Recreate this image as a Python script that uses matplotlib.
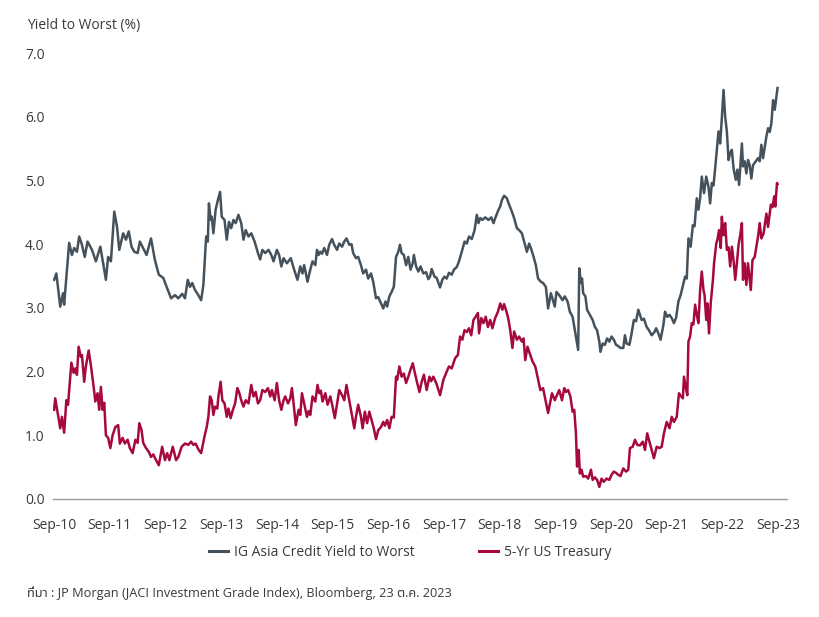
import matplotlib
matplotlib.use("Agg")
import matplotlib.pyplot as plt
from matplotlib import font_manager, ft2font

# ---------------- data (decimal years, values in %) ----------------
ig_t = [2010.81, 2010.85, 2010.92, 2010.97, 2010.99, 2011.08, 2011.13, 2011.17, 2011.22, 2011.26,
        2011.31, 2011.36, 2011.41, 2011.49, 2011.56, 2011.64, 2011.68, 2011.74, 2011.78, 2011.83,
        2011.89, 2011.94, 2011.98, 2012.05, 2012.10, 2012.15, 2012.20, 2012.25, 2012.31, 2012.35,
        2012.47, 2012.55, 2012.62, 2012.69, 2012.77, 2012.83, 2012.91, 2012.98, 2013.04, 2013.11,
        2013.16, 2013.21, 2013.25, 2013.29, 2013.34, 2013.40, 2013.45, 2013.49, 2013.52, 2013.54,
        2013.57, 2013.59, 2013.62, 2013.64, 2013.67, 2013.71, 2013.75, 2013.79, 2013.82, 2013.87,
        2013.91, 2013.95, 2013.99, 2014.03, 2014.07, 2014.12, 2014.17, 2014.21, 2014.25, 2014.30,
        2014.35, 2014.41, 2014.47, 2014.51, 2014.55, 2014.60, 2014.66, 2014.71, 2014.75, 2014.81,
        2014.85, 2014.89, 2014.93, 2014.99, 2015.06, 2015.12, 2015.18, 2015.23, 2015.27, 2015.30,
        2015.36, 2015.41, 2015.45, 2015.50, 2015.53, 2015.56, 2015.59, 2015.62, 2015.66, 2015.71,
        2015.75, 2015.80, 2015.84, 2015.89, 2015.93, 2015.98, 2016.02, 2016.06, 2016.11, 2016.15,
        2016.18, 2016.23, 2016.27, 2016.32, 2016.36, 2016.41, 2016.45, 2016.50, 2016.54, 2016.59,
        2016.63, 2016.68, 2016.72, 2016.76, 2016.79, 2016.83, 2016.87, 2016.91, 2016.95, 2016.99,
        2017.02, 2017.05, 2017.09, 2017.13, 2017.17, 2017.21, 2017.25, 2017.27, 2017.31, 2017.35,
        2017.39, 2017.44, 2017.49, 2017.53, 2017.56, 2017.59, 2017.64, 2017.68, 2017.74, 2017.78,
        2017.82, 2017.86, 2017.90, 2017.95, 2017.99, 2018.04, 2018.08, 2018.13, 2018.18, 2018.22,
        2018.26, 2018.31, 2018.36, 2018.40, 2018.43, 2018.46, 2018.50, 2018.55, 2018.61, 2018.66,
        2018.70, 2018.74, 2018.79, 2018.82, 2018.85, 2018.89, 2018.94, 2018.98, 2019.03, 2019.07,
        2019.12, 2019.16, 2019.21, 2019.25, 2019.30, 2019.34, 2019.37, 2019.41, 2019.46, 2019.50,
        2019.55, 2019.59, 2019.64, 2019.68, 2019.73, 2019.80, 2019.83, 2019.88, 2019.94, 2019.98,
        2020.03, 2020.07, 2020.12, 2020.16, 2020.19, 2020.22, 2020.24, 2020.27, 2020.29, 2020.31,
        2020.35, 2020.38, 2020.43, 2020.48, 2020.52, 2020.56, 2020.60, 2020.62, 2020.66, 2020.70,
        2020.74, 2020.78, 2020.82, 2020.86, 2020.90, 2020.94, 2020.98, 2021.03, 2021.06, 2021.09,
        2021.14, 2021.18, 2021.22, 2021.26, 2021.30, 2021.33, 2021.36, 2021.40, 2021.45, 2021.49,
        2021.54, 2021.59, 2021.62, 2021.66, 2021.70, 2021.75, 2021.78, 2021.82, 2021.86, 2021.90,
        2021.94, 2021.98, 2022.02, 2022.06, 2022.14, 2022.17, 2022.20, 2022.24, 2022.28, 2022.31,
        2022.35, 2022.38, 2022.41, 2022.44, 2022.48, 2022.52, 2022.56, 2022.59, 2022.62, 2022.65,
        2022.68, 2022.71, 2022.74, 2022.77, 2022.80, 2022.83, 2022.86, 2022.89, 2022.92, 2022.95,
        2022.98, 2023.01, 2023.05, 2023.08, 2023.11, 2023.16, 2023.18, 2023.21, 2023.24, 2023.27,
        2023.30, 2023.33, 2023.36, 2023.41, 2023.45, 2023.48, 2023.51, 2023.54, 2023.60, 2023.63,
        2023.66, 2023.69, 2023.72, 2023.75, 2023.77, 2023.80]
ig_v = [3.44, 3.54, 3.02, 3.23, 3.05, 4.02, 3.83, 3.94, 3.88, 4.12,
        3.99, 3.80, 4.04, 3.91, 3.73, 3.96, 3.75, 3.44, 3.80, 3.73,
        4.51, 4.27, 3.91, 4.17, 4.07, 4.20, 3.96, 3.88, 3.86, 4.04,
        3.83, 4.09, 3.75, 3.52, 3.47, 3.33, 3.15, 3.20, 3.15, 3.22,
        3.15, 3.44, 3.33, 3.39, 3.28, 3.20, 3.12, 3.36, 3.80, 4.12,
        4.04, 4.64, 4.38, 4.43, 4.17, 4.54, 4.69, 4.82, 4.43, 4.38,
        4.07, 4.35, 4.25, 4.38, 4.33, 4.46, 4.33, 4.07, 4.22, 4.12,
        4.17, 4.04, 3.86, 3.76, 3.91, 3.86, 3.91, 3.83, 3.73, 3.91,
        3.83, 3.65, 3.78, 3.70, 3.78, 3.60, 3.44, 3.65, 3.54, 3.67,
        3.41, 3.60, 3.73, 3.67, 3.91, 3.83, 3.88, 3.85, 3.94, 3.83,
        3.99, 4.08, 3.99, 3.91, 4.01, 3.96, 4.04, 4.09, 3.99, 4.00,
        3.86, 3.78, 3.80, 3.67, 3.54, 3.60, 3.46, 3.54, 3.41, 3.15,
        3.17, 3.07, 2.99, 3.10, 3.02, 3.18, 3.25, 3.33, 3.80, 3.88,
        3.99, 3.86, 3.83, 3.67, 3.80, 3.60, 3.70, 3.83, 3.65, 3.57,
        3.65, 3.54, 3.56, 3.45, 3.49, 3.61, 3.49, 3.47, 3.32, 3.44,
        3.49, 3.46, 3.55, 3.52, 3.60, 3.64, 3.73, 3.88, 4.04, 4.01,
        4.12, 4.08, 4.22, 4.46, 4.33, 4.41, 4.38, 4.42, 4.38, 4.42,
        4.33, 4.43, 4.54, 4.59, 4.69, 4.76, 4.72, 4.62, 4.51, 4.41,
        4.25, 4.22, 4.17, 4.04, 3.88, 4.01, 3.94, 3.83, 3.67, 3.46,
        3.41, 3.39, 3.33, 2.99, 3.23, 3.02, 3.25, 3.20, 3.12, 3.18,
        3.10, 2.94, 2.86, 2.65, 2.50, 2.34, 3.62, 3.39, 3.46, 3.23,
        3.18, 2.97, 2.89, 2.81, 2.70, 2.65, 2.47, 2.31, 2.44, 2.42,
        2.52, 2.47, 2.55, 2.50, 2.42, 2.40, 2.37, 2.37, 2.57, 2.44,
        2.42, 2.60, 2.81, 2.79, 2.97, 2.89, 2.81, 2.83, 2.70, 2.65,
        2.57, 2.62, 2.68, 2.60, 2.50, 2.73, 2.94, 2.86, 2.89, 2.84,
        2.76, 2.85, 3.10, 3.20, 3.49, 3.46, 4.09, 3.96, 4.30, 4.28,
        4.72, 4.54, 4.72, 5.06, 4.80, 5.06, 4.90, 4.64, 4.96, 4.92,
        5.19, 5.48, 5.77, 5.58, 5.98, 6.42, 6.00, 5.77, 5.32, 5.43,
        5.48, 5.19, 5.01, 5.17, 4.93, 5.58, 5.22, 5.30, 5.11, 5.32,
        5.24, 5.03, 5.24, 5.30, 5.35, 5.30, 5.56, 5.35, 5.69, 5.82,
        5.76, 5.90, 6.26, 6.11, 6.25, 6.45]

ust_t = [2010.81, 2010.83, 2010.92, 2010.95, 2010.99, 2011.03, 2011.06, 2011.12, 2011.16, 2011.19,
         2011.22, 2011.25, 2011.29, 2011.31, 2011.35, 2011.38, 2011.43, 2011.47, 2011.52, 2011.55,
         2011.59, 2011.62, 2011.65, 2011.68, 2011.71, 2011.74, 2011.78, 2011.82, 2011.86, 2011.91,
         2011.96, 2011.99, 2012.04, 2012.08, 2012.13, 2012.17, 2012.22, 2012.27, 2012.31, 2012.34,
         2012.38, 2012.41, 2012.46, 2012.51, 2012.55, 2012.59, 2012.64, 2012.69, 2012.75, 2012.80,
         2012.84, 2012.88, 2012.94, 2013.00, 2013.04, 2013.10, 2013.16, 2013.22, 2013.27, 2013.31,
         2013.35, 2013.40, 2013.45, 2013.51, 2013.55, 2013.58, 2013.61, 2013.64, 2013.67, 2013.70,
         2013.74, 2013.76, 2013.80, 2013.83, 2013.87, 2013.91, 2013.94, 2013.98, 2014.02, 2014.06,
         2014.10, 2014.13, 2014.17, 2014.21, 2014.25, 2014.30, 2014.35, 2014.39, 2014.43, 2014.47,
         2014.51, 2014.55, 2014.60, 2014.65, 2014.69, 2014.72, 2014.77, 2014.81, 2014.85, 2014.89,
         2014.93, 2014.96, 2015.01, 2015.05, 2015.08, 2015.11, 2015.15, 2015.20, 2015.23, 2015.26,
         2015.30, 2015.35, 2015.38, 2015.41, 2015.45, 2015.50, 2015.54, 2015.57, 2015.60, 2015.63,
         2015.68, 2015.72, 2015.77, 2015.81, 2015.85, 2015.90, 2015.93, 2015.98, 2016.02, 2016.06,
         2016.11, 2016.15, 2016.20, 2016.23, 2016.27, 2016.32, 2016.35, 2016.39, 2016.43, 2016.47,
         2016.51, 2016.55, 2016.59, 2016.63, 2016.68, 2016.72, 2016.75, 2016.79, 2016.83, 2016.87,
         2016.91, 2016.95, 2016.97, 2017.01, 2017.05, 2017.09, 2017.13, 2017.17, 2017.21, 2017.25,
         2017.29, 2017.33, 2017.37, 2017.41, 2017.45, 2017.50, 2017.55, 2017.58, 2017.62, 2017.68,
         2017.74, 2017.80, 2017.86, 2017.90, 2017.95, 2018.01, 2018.06, 2018.10, 2018.14, 2018.18,
         2018.22, 2018.26, 2018.30, 2018.34, 2018.38, 2018.42, 2018.44, 2018.48, 2018.52, 2018.56,
         2018.60, 2018.64, 2018.68, 2018.73, 2018.78, 2018.82, 2018.86, 2018.89, 2018.94, 2018.97,
         2019.00, 2019.04, 2019.07, 2019.12, 2019.16, 2019.21, 2019.24, 2019.27, 2019.31, 2019.36,
         2019.40, 2019.45, 2019.49, 2019.54, 2019.59, 2019.68, 2019.75, 2019.80, 2019.88, 2019.93,
         2019.97, 2020.00, 2020.04, 2020.08, 2020.12, 2020.15, 2020.18, 2020.20, 2020.23, 2020.25,
         2020.28, 2020.31, 2020.36, 2020.40, 2020.45, 2020.48, 2020.52, 2020.56, 2020.60, 2020.64,
         2020.68, 2020.73, 2020.78, 2020.82, 2020.86, 2020.90, 2020.94, 2020.98, 2021.03, 2021.08,
         2021.12, 2021.15, 2021.20, 2021.24, 2021.28, 2021.33, 2021.38, 2021.42, 2021.46, 2021.50,
         2021.54, 2021.58, 2021.63, 2021.68, 2021.72, 2021.76, 2021.81, 2021.86, 2021.90, 2021.94,
         2021.99, 2022.03, 2022.05, 2022.10, 2022.12, 2022.16, 2022.18, 2022.20, 2022.23, 2022.26,
         2022.29, 2022.32, 2022.35, 2022.38, 2022.41, 2022.44, 2022.47, 2022.49, 2022.52, 2022.54,
         2022.57, 2022.60, 2022.64, 2022.66, 2022.70, 2022.72, 2022.75, 2022.78, 2022.80, 2022.83,
         2022.86, 2022.89, 2022.92, 2022.95, 2022.98, 2023.01, 2023.04, 2023.07, 2023.10, 2023.13,
         2023.16, 2023.18, 2023.21, 2023.24, 2023.27, 2023.32, 2023.35, 2023.39, 2023.42, 2023.45,
         2023.48, 2023.51, 2023.55, 2023.60, 2023.63, 2023.68, 2023.71, 2023.74, 2023.76, 2023.79,
         2023.80]
ust_v = [1.40, 1.58, 1.11, 1.29, 1.04, 1.55, 1.48, 2.14, 1.98, 2.05,
         1.95, 2.39, 2.23, 2.26, 1.84, 2.08, 2.33, 2.10, 1.76, 1.53,
         1.66, 1.40, 1.76, 1.40, 1.51, 1.00, 0.96, 0.80, 1.00, 1.13,
         1.16, 0.87, 0.96, 0.87, 0.93, 0.80, 0.72, 0.93, 0.88, 1.19,
         1.08, 0.88, 0.80, 0.74, 0.66, 0.70, 0.61, 0.53, 0.82, 0.61,
         0.72, 0.61, 0.82, 0.61, 0.66, 0.82, 0.87, 0.85, 0.90, 0.85,
         0.87, 0.78, 0.72, 0.98, 1.13, 1.29, 1.61, 1.55, 1.32, 1.45,
         1.42, 1.61, 1.84, 1.55, 1.50, 1.29, 1.42, 1.27, 1.40, 1.50,
         1.74, 1.68, 1.55, 1.45, 1.55, 1.50, 1.79, 1.61, 1.68, 1.50,
         1.55, 1.71, 1.68, 1.74, 1.61, 1.71, 1.55, 1.82, 1.55, 1.40,
         1.55, 1.61, 1.50, 1.58, 1.74, 1.50, 1.16, 1.40, 1.32, 1.66,
         1.50, 1.29, 1.38, 1.32, 1.61, 1.53, 1.79, 1.66, 1.70, 1.53,
         1.66, 1.48, 1.61, 1.45, 1.27, 1.55, 1.71, 1.63, 1.55, 1.79,
         1.55, 1.35, 1.11, 1.29, 1.48, 1.29, 1.11, 1.37, 1.19, 1.37,
         1.24, 1.11, 0.94, 1.08, 1.13, 1.21, 1.15, 1.24, 1.11, 1.29,
         1.28, 1.92, 1.87, 2.08, 1.92, 1.97, 1.82, 1.92, 2.03, 2.13,
         1.97, 1.82, 1.68, 1.84, 1.95, 1.71, 1.92, 1.85, 1.92, 1.80,
         1.63, 1.87, 2.00, 2.08, 2.05, 2.21, 2.26, 2.55, 2.50, 2.65,
         2.62, 2.68, 2.57, 2.81, 2.86, 2.92, 2.60, 2.84, 2.76, 2.86,
         2.70, 2.81, 2.68, 2.84, 2.94, 3.07, 2.97, 3.06, 2.92, 2.81,
         2.65, 2.37, 2.63, 2.50, 2.55, 2.47, 2.52, 2.18, 2.39, 2.26,
         2.16, 2.08, 1.92, 1.71, 1.74, 1.35, 1.66, 1.55, 1.71, 1.55,
         1.74, 1.68, 1.71, 1.61, 1.37, 1.40, 1.03, 0.51, 0.77, 0.40,
         0.46, 0.35, 0.36, 0.32, 0.46, 0.30, 0.34, 0.30, 0.19, 0.32,
         0.27, 0.32, 0.30, 0.38, 0.43, 0.41, 0.38, 0.36, 0.48, 0.43,
         0.46, 0.80, 0.82, 0.93, 0.85, 0.84, 0.90, 0.77, 1.03, 0.90,
         0.77, 0.64, 0.82, 0.80, 0.82, 1.03, 1.21, 1.11, 1.29, 1.21,
         1.29, 1.66, 1.63, 1.58, 1.92, 1.71, 1.63, 2.47, 2.55, 2.76,
         2.74, 3.05, 2.89, 2.76, 3.28, 3.57, 3.28, 3.20, 2.81, 3.07,
         2.60, 3.07, 3.44, 3.70, 4.01, 4.07, 4.22, 3.94, 4.43, 4.14,
         4.33, 3.91, 3.95, 3.65, 3.96, 3.75, 3.44, 3.70, 3.99, 4.14,
         4.33, 3.44, 3.70, 3.36, 3.70, 3.28, 3.75, 3.80, 3.96, 4.12,
         4.33, 4.09, 4.17, 4.48, 4.27, 4.62, 4.58, 4.75, 4.59, 4.96,
         4.94]

tick_years = list(range(2010, 2024))
tick_labels = ["Sep-10", "Sep-11", "Sep-12", "Sep-13", "Sep-14", "Sep-15", "Sep-16",
               "Sep-17", "Sep-18", "Sep-19", "Sep-20", "Sep-21", "Sep-22", "Sep-23"]
y_ticks = [0, 1, 2, 3, 4, 5, 6, 7]

series_names = ["IG Asia Credit Yield to Worst", "5-Yr US Treasury"]
title_text = "Yield to Worst (%)"
source_text = "ที่มา : JP Morgan (JACI Investment Grade Index), Bloomberg, 23 ต.ค. 2023"

# ---------------- fonts ----------------
def find_thai_font():
    preferred = ["Noto Sans Thai", "Noto Sans Thai UI", "Loma", "Garuda", "Tlwg Typo",
                 "Kinnari", "Norasi", "Sawasdee", "Umpush", "Waree"]
    found = []
    for f in font_manager.fontManager.ttflist:
        try:
            ft = ft2font.FT2Font(f.fname)
            if ft.get_char_index(ord("ท")) and ft.get_char_index(ord("่")):
                found.append(f.name)
        except Exception:
            pass
    for p in preferred:
        if p in found:
            return p
    return found[0] if found else None

BASE = "Open Sans"
thai = find_thai_font()
fam = [BASE] + ([thai] if thai else []) + ["DejaVu Sans"]
plt.rcParams["font.family"] = fam

TXT = "#3a3a3a"
GREY_LINE = "#45525c"
RED_LINE = "#a6093d"

fig = plt.figure(figsize=(8.2, 6.17), dpi=100)
ax = fig.add_axes([53 / 820, 1 - 499 / 617, (787 - 53) / 820, (499 - 53) / 617])

l1, = ax.plot(ig_t, ig_v, color=GREY_LINE, lw=1.8, solid_joinstyle="round")
l2, = ax.plot(ust_t, ust_v, color=RED_LINE, lw=1.8, solid_joinstyle="round")

ax.set_ylim(0, 7)
ax.set_xlim(2010.79, 2023.97)
ax.set_yticks(y_ticks)
ax.set_yticklabels([f"{v:.1f}" for v in y_ticks])
ax.set_xticks([y + 0.81 for y in tick_years])
ax.set_xticklabels(tick_labels)
ax.tick_params(axis="both", length=0, labelsize=10, colors=TXT)
ax.tick_params(axis="y", pad=6)
ax.tick_params(axis="x", pad=14)
for s in ["top", "right", "left"]:
    ax.spines[s].set_visible(False)
ax.spines["bottom"].set_color("#9a9a9a")
ax.spines["bottom"].set_linewidth(1.0)

fig.text(27 / 820, 1 - 25 / 617, title_text, fontsize=10, color=TXT, va="center", ha="left")

leg = fig.legend([l1, l2], series_names, loc="center", bbox_to_anchor=(410 / 820, 1 - 552 / 617),
                 ncol=2, frameon=False, fontsize=10, handlelength=1.4, handletextpad=0.4,
                 columnspacing=4.6, labelcolor=TXT)
for h in leg.legend_handles:
    h.set_linewidth(2.2)

fig.text(27 / 820, 1 - 593 / 617, source_text, fontsize=9.2, color=TXT, va="center", ha="left")

fig.savefig("out.png", dpi=100)
